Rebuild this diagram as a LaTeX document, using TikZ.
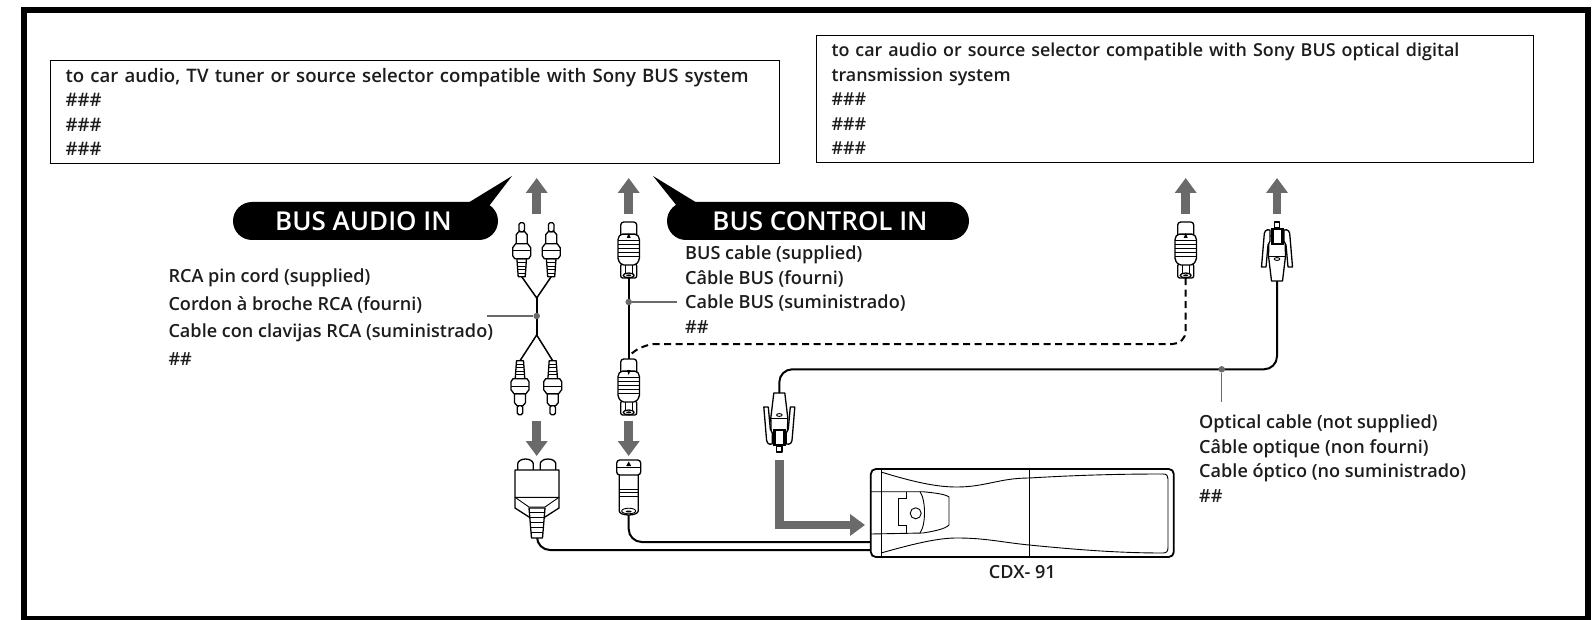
\documentclass[tikz,border=0pt]{standalone}
\usepackage{fontspec}
\setmainfont{Open Sans}[BoldFont={Open Sans Semibold}]
\usepackage{tikz}
\usetikzlibrary{arrows.meta,positioning,calc}
\definecolor{leadgray}{HTML}{6A6A6A}
\definecolor{inkblack}{HTML}{1C1C1C}

\begin{document}
\begin{tikzpicture}[
    x=1pt, y=-1pt,
    every node/.style={text=inkblack},
    infobox/.style={draw=black, line width=1pt, anchor=north west, align=left, inner xsep=15pt, inner ysep=0pt, font=\bfseries\fontsize{#1}{24.4}\selectfont},
    pill/.style={fill=black, rounded corners=19pt, minimum height=38pt, inner sep=0pt, text=white, font=\bfseries\fontsize{26}{30}\selectfont},
    cordlabel/.style={anchor=north west, align=left, inner sep=0pt, font=\bfseries\fontsize{18.1}{#1}\selectfont},
    feed/.style={-{Triangle[length=15pt,width=21pt]}, line width=8.8pt, leadgray},
    cable/.style={line width=2pt, black},
    lead/.style={line width=1.5pt, leadgray},
    leaddot/.style={circle, fill=leadgray, inner sep=0pt, minimum size=6.5pt},
    part/.style={draw=black, fill=white, line width=1.3pt, line join=round},
    thinline/.style={draw=black, line width=0.9pt},
    rcaplug/.pic={
        \draw[part] (-3.5,0) -- (-4.8,-18) -- (4.8,-18) -- (3.5,0) -- cycle;
        \draw[thinline] (-3.7,-3.5) -- (3.7,-3.5) (-4,-7) -- (4,-7) (-4.2,-10.5) -- (4.2,-10.5) (-4.5,-14) -- (4.5,-14);
        \draw[part] (-5.5,-33) -- (-5.5,-42) -- (-3,-45) -- (3,-45) -- (5.5,-42) -- (5.5,-33) -- cycle;
        \draw[part, rounded corners=1.5pt] (-2.7,-45) -- (-2.7,-54) -- (2.7,-54) -- (2.7,-45) -- cycle;
        \draw[part] (-7,-18) -- (-9,-21) -- (-9,-29) -- (-6,-33) -- (6,-33) -- (9,-29) -- (9,-21) -- (7,-18) -- cycle;
        \draw[thinline] (-9,-26) -- (9,-26);
    },
    busplug/.pic={
        \draw[part, rounded corners=3pt] (-8,-40) -- (-8,-56) -- (8,-56) -- (8,-40) -- cycle;
        \draw[part, rounded corners=2pt] (-8,-14) -- (-8,0) -- (8,0) -- (8,-14) -- cycle;
        \draw[thinline] (-3.5,-14) -- (-3.5,-5) (3.5,-14) -- (3.5,-5);
        \draw[part] (0,-2.6) ellipse (5.5 and 2.4);
        \fill[black] (0,-2.6) ellipse (2.5 and 1);
        \draw[part, rounded corners=2pt] (-7,-13) -- (-10.8,-18) -- (-10.8,-40) -- (-8,-44) -- (8,-44) -- (10.8,-40) -- (10.8,-18) -- (7,-13) -- cycle;
        \draw[thinline] (-10.8,-22) -- (10.8,-22) (-10.8,-26) -- (10.8,-26) (-10.8,-30) -- (10.8,-30) (-10.8,-34) -- (10.8,-34) (-10.8,-38) -- (10.8,-38);
        \draw[thinline] (-8,-44) -- (8,-44);
    },
    optplug/.pic={
        \draw[part] (-8,-45) -- (-8.5,-25) -- (-5.5,0) -- (5.5,0) -- (8.5,-25) -- (8,-45) -- cycle;
        \draw[part] (-7,-51) .. controls (-11,-52) and (-13,-50) .. (-13,-44) -- (-15.5,-14) -- (-11,-14) -- (-9,-36) -- (-7,-40) -- cycle;
        \draw[part] (7,-51) .. controls (11,-52) and (13,-50) .. (13,-44) -- (15.5,-14) -- (11,-14) -- (9,-36) -- (7,-40) -- cycle;
        \draw[part] (-2.7,-53) -- (-2.7,-59) -- (2.7,-59) -- (2.7,-53) -- cycle;
        \fill[black] (-6.5,-53) rectangle (6.5,-36);
        \fill[white] (-3.5,-51) rectangle (3.5,-38);
        \draw[thinline] (-8.5,-25) -- (8.5,-25);
        \draw[thinline] (0,-22) ellipse (2.8 and 1.4);
    },
]
    \useasboundingbox (0,0) rectangle (1592,620);
    \draw[line width=6pt, black] (24,10) rectangle (1588,619);

    % boxes at the top
    \node[infobox=18.6, text width=699pt, minimum height=103pt] (boxbus) at (50,60) {to car audio, TV tuner or source selector compatible with Sony BUS system\\\#\#\#\\\#\#\#\\\#\#\#};
    \node[infobox=17.9, text width=687pt, minimum height=127pt] (boxoptical) at (816,35) {to car audio or source selector compatible with Sony BUS optical digital\\transmission system\\\#\#\#\\\#\#\#\\\#\#\#};

    % callouts
    \node[pill, minimum width=265pt] (audioin) at (365.5,221) {\hspace*{-4pt}BUS AUDIO IN};
    \node[pill, minimum width=302pt] (controlin) at (818,221) {\hspace*{4pt}BUS CONTROL IN};
    \coordinate (audiotip) at (512,176);
    \coordinate (controltip) at (653,176);
    \fill[black] ($(audioin.north east)+(-30,1)$) -- (audiotip) -- ($(audioin.north east)+(-9,4)$) -- cycle;
    \fill[black] ($(controlin.north west)+(10,4)$) -- (controltip) -- ($(controlin.north west)+(30,1)$) -- cycle;

    % cable ends
    \coordinate (rcaleft) at (521.7,276.7);
    \coordinate (rcaright) at (551.2,276.7);
    \coordinate (rcalowleft) at (520,360.7);
    \coordinate (rcalowright) at (552.7,360.7);
    \coordinate (rcatop) at (536.7,298);
    \coordinate (rcabottom) at (536.7,335);
    \coordinate (busup) at (628.7,278);
    \coordinate (buslow) at (628.7,415);
    \coordinate (busdashup) at (1185.7,278);
    \coordinate (buscorner) at (630,355);
    \coordinate (optup) at (1277,281);
    \coordinate (optlow) at (779.3,393);
    \coordinate (sockaudio) at (537,537);
    \coordinate (sockbus) at (628.7,515);
    \coordinate (cdxaudio) at (871,550);
    \coordinate (cdxbus) at (871,542);

    % cables
    \draw[line width=1.5pt] (rcaleft) -- (rcatop) -- (rcaright);
    \draw[line width=1.5pt] (rcalowleft) -- (rcabottom) -- (rcalowright);
    \draw[cable] (rcatop) -- (rcabottom);
    \node[leaddot] (rcadot) at (536.7,316) {};
    \draw[lead] (rcadot) -- (487,316);
    \draw[cable] (busup) -- (628.7,359);
    \node[leaddot] (busdot) at (628.7,302) {};
    \coordinate (buslabelend) at (677,302);
    \draw[lead] (busdot) -- (buslabelend);
    \coordinate (dashmid) at (900,344);
    \draw[cable, dashed, dash pattern=on 7pt off 4.5pt, rounded corners=13pt] (busdashup) |- (dashmid) -- (643,344) -- (buscorner);
    \coordinate (optmid) at (1221.7,369.3);
    \draw[cable, rounded corners=13pt] (optup) |- (optmid) -| (optlow);
    \node[leaddot] (optdot) at (optmid) {};
    \coordinate (optlabelend) at (1221.7,402);
    \draw[lead] (optdot) -- (optlabelend);
    \draw[cable, rounded corners=13pt] (sockaudio) |- (cdxaudio);
    \draw[cable, rounded corners=13pt] (sockbus) |- (cdxbus);

    % plugs
    \pic at (rcaleft) {rcaplug};
    \pic at (rcaright) {rcaplug};
    \pic[rotate=180] at (rcalowleft) {rcaplug};
    \pic[rotate=180] at (rcalowright) {rcaplug};
    \pic at (busup) {busplug};
    \fill[black] (626.7,238) -- (630.7,238) -- (628.7,233) -- cycle;
    \pic at (buslow) {busplug};
    \fill[black] (626.7,370) -- (630.7,370) -- (628.7,375) -- cycle;
    \pic at (busdashup) {busplug};
    \fill[black] (1183.7,238) -- (1187.7,238) -- (1185.7,233) -- cycle;
    \pic at (optup) {optplug};
    \pic[rotate=180] at (optlow) {optplug};

    % socket of the audio cord
    \draw[part] (517.7,470) -- (517.7,464) arc (180:360:7.8 and 5) -- (533.3,470);
    \draw[part] (540.2,470) -- (540.2,464) arc (180:360:7.8 and 5) -- (555.8,470);
    \draw[part] (515,470) -- (559,470) -- (559,508) -- (545,517) -- (529,517) -- (515,508) -- cycle;
    \draw[thinline] (515,497.3) -- (559,497.3) (515,497.3) -- (529,507) -- (545,507) -- (559,497.3);
    \draw[part] (529,508) -- (531.5,538) -- (542.5,538) -- (545,508) -- cycle;
    \draw[thinline] (529.5,512) -- (544.5,512) (530,517) -- (544,517) (530.3,522) -- (543.7,522) (530.7,527) -- (543.3,527) (531,532) -- (543,532);

    % socket of the bus cable
    \draw[part] (619.2,473) -- (619.2,511) arc (180:0:9.5 and 4) -- (638.2,473) -- cycle;
    \draw[thinline] (619.2,489) -- (638.2,489) (619.2,492.5) -- (638.2,492.5) (619.2,496) -- (638.2,496);
    \draw[thinline] (628.7,511) ellipse (7 and 2.8);
    \fill[black] (628.7,511.5) ellipse (3 and 1);
    \draw[part, rounded corners=3pt] (616.7,475) -- (616.7,460) -- (640.7,460) -- (640.7,475) -- cycle;
    \draw[thinline] (617,467) -- (640.4,467);
    \fill[black] (626.2,466) -- (631.2,466) -- (628.7,461.5) -- cycle;

    % feed arrows
    \coordinate (feedaudio) at (536.7,214);
    \coordinate (feedbus) at (628.7,214);
    \coordinate (feedbustwo) at (1185.7,214);
    \coordinate (feedoptical) at (1277,214);
    \draw[feed] (feedaudio) -- (536.7,178);
    \draw[feed] (feedbus) -- (628.7,178);
    \draw[feed] (feedbustwo) -- (1185.7,178);
    \draw[feed] (feedoptical) -- (1277,178);
    \coordinate (dropaudio) at (536.7,421);
    \coordinate (dropbus) at (628.7,421);
    \draw[feed] (dropaudio) -- (536.7,456);
    \draw[feed] (dropbus) -- (628.7,456);
    \coordinate (insert) at (779.3,460);
    \draw[feed] (insert) |- (865,525);

    % changer
    \node[draw=black, line width=1.8pt, rounded corners=5pt, fill=white, minimum width=303pt, minimum height=88pt, inner sep=0pt] (cdx) at (1022.3,513) {};
    \node[below=4pt of cdx, font=\bfseries\fontsize{18.1}{20}\selectfont] (cdxname) {CDX- 91};
    \draw[thinline] (1029,469) -- (1029,557) (881,469) -- (881,557);
    \draw[thinline] (881,472) .. controls (920,484) and (940,487) .. (957,487) .. controls (985,487) and (1000,478) .. (1029,478) .. controls (1080,475) and (1120,474) .. (1163,474) .. controls (1167,474) and (1168,476) .. (1168,479) -- (1168,547) .. controls (1168,551) and (1167,553) .. (1163,553) .. controls (1120,553) and (1080,550) .. (1029,545) .. controls (1000,542) and (985,538) .. (957,538) .. controls (940,538) and (920,542) .. (881,553);
    \draw[thinline] (871,491.7) -- (923,491.7) .. controls (935,493) and (945,494) .. (949,497) -- (949,525) .. controls (945,529) and (935,531) .. (923,533) -- (871,534);
    \draw[thinline] (906.7,491.7) -- (906.7,498) -- (898,498) -- (898,525) -- (906.7,525) -- (906.7,533);
    \draw[thinline] (920,491.7) .. controls (926,500) and (926,525) .. (920,533);
    \node[draw=black, circle, line width=0.9pt, minimum size=11pt, inner sep=0pt] (cdxscrew) at (915.7,513.3) {};

    % labels
    \node[cordlabel=27.5pt] (rcalabel) at (168.3,269) {RCA pin cord (supplied)\\Cordon à broche RCA (fourni)\\Cable con clavijas RCA (suministrado)\\\#\#};
    \node[cordlabel=24.4pt] (buslabel) at (685,246) {BUS cable (supplied)\\Câble BUS (fourni)\\Cable BUS (suministrado)\\\#\#};
    \node[cordlabel=24.4pt] (optlabel) at (1199,415) {Optical cable (not supplied)\\Câble optique (non fourni)\\Cable óptico (no suministrado)\\\#\#};
\end{tikzpicture}
\end{document}
